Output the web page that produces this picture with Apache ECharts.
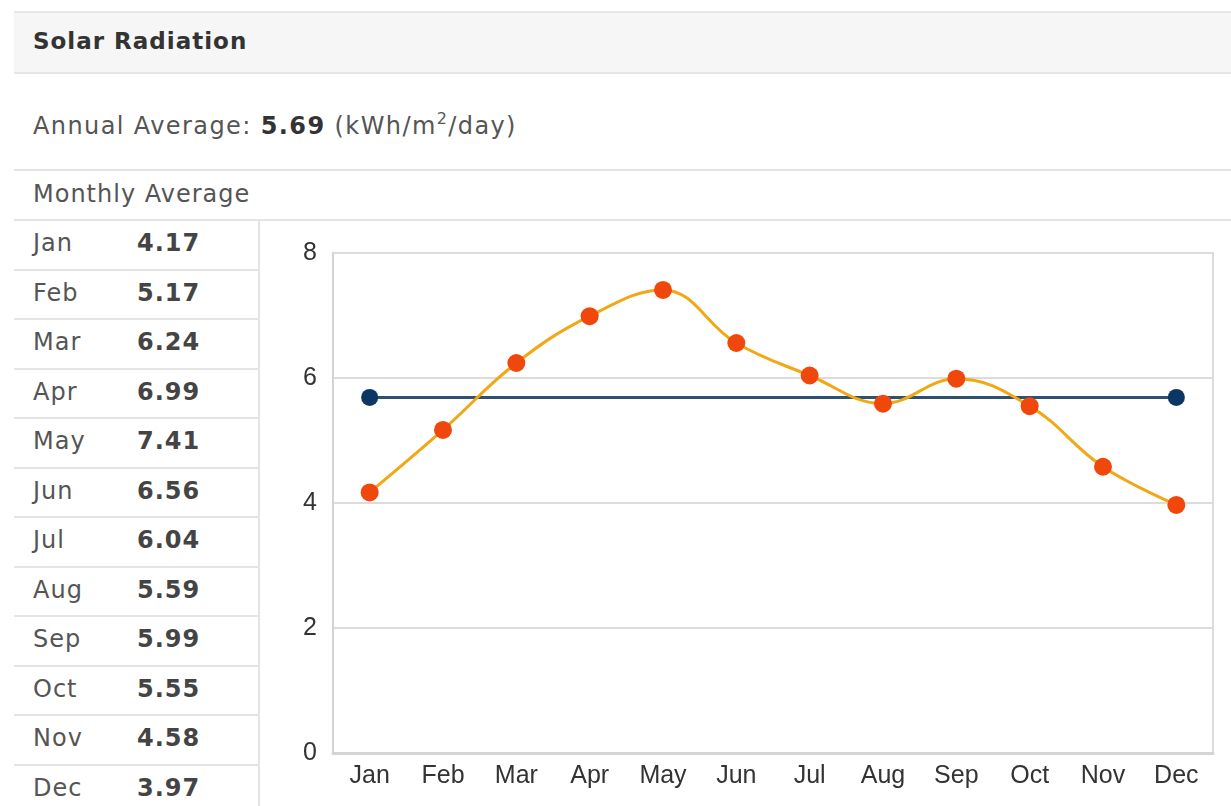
<!DOCTYPE html>
<html>
<head>
<meta charset="utf-8">
<script src="https://cdn.jsdelivr.net/npm/echarts@6/dist/echarts.min.js"></script>
<style>
    html, body { margin: 0; padding: 0; background: #fff; }
    body { width: 1231px; height: 806px; overflow: hidden; position: relative; font-family: "DejaVu Sans", Verdana, sans-serif; }
    .hline { position: absolute; left: 14px; right: 0; height: 2px; background: #e4e4e4; }
    #head { position: absolute; left: 14px; right: 0; top: 11px; height: 59px; background: #f6f6f6;
            border-top: 2px solid #e6e6e6; border-bottom: 2px solid #e6e6e6; }
    #head span { position: absolute; left: 19px; top: 15px; font-size: 23px; font-weight: bold; color: #333; letter-spacing: 1px; }
    #annual { position: absolute; left: 33px; top: 112px; font-size: 24px; color: #555; letter-spacing: 1.4px; }
    #annual b { color: #333; }
    #annual sup { font-size: 16px; vertical-align: 10px; line-height: 0; }
    #monthly { position: absolute; left: 33px; top: 180px; font-size: 24px; color: #555; letter-spacing: 1px; }
    #table { position: absolute; left: 14px; top: 221px; width: 244px; bottom: 0; border-right: 2px solid #e4e4e4; }
    .row { height: 47.5px; border-bottom: 2px solid #e4e4e4; position: relative; font-size: 24px; letter-spacing: 1px; }
    .row .m { position: absolute; left: 19px; top: 8px; color: #555; }
    .row .v { position: absolute; left: 123px; top: 8px; color: #444; font-weight: bold; }
    #chart { position: absolute; left: 260px; top: 221px; width: 971px; height: 585px; }
</style>
</head>
<body>
<div id="head"><span>Solar Radiation</span></div>
<div id="annual"></div>
<div class="hline" style="top:169px"></div>
<div id="monthly">Monthly Average</div>
<div class="hline" style="top:219px"></div>
<div id="table"></div>
<div id="chart"></div>
<script>
// values
const months = ['Jan', 'Feb', 'Mar', 'Apr', 'May', 'Jun', 'Jul', 'Aug', 'Sep', 'Oct', 'Nov', 'Dec'];
const monthly = [4.17, 5.17, 6.24, 6.99, 7.41, 6.56, 6.04, 5.59, 5.99, 5.55, 4.58, 3.97];
const annualAvg = 5.69;
const yTicks = [0, 2, 4, 6, 8];

document.getElementById('annual').innerHTML =
    'Annual Average: <b>' + annualAvg.toFixed(2) + '</b> (kWh/m<sup>2</sup>/day)';

let rows = '';
months.forEach((m, i) => {
    rows += '<div class="row"><span class="m">' + m + '</span><span class="v">' + monthly[i].toFixed(2) + '</span></div>';
});
document.getElementById('table').innerHTML = rows;

// avg line only has markers at both ends
const avgLine = months.map((m, i) => (i === 0 || i === months.length - 1) ? annualAvg : null);

const chart = echarts.init(document.getElementById('chart'));
const option = {
    animation: false,
    grid: { left: 73, right: 18, top: 32, bottom: 53, show: true, borderColor: '#dcdcdc', borderWidth: 2 },
    xAxis: {
        type: 'category',
        data: months,
        boundaryGap: true,
        axisLine: { lineStyle: { color: '#d4d4d4', width: 3 } },
        axisTick: { show: false },
        axisLabel: { color: '#333', fontSize: 25, fontFamily: 'Liberation Sans, Arial', margin: 11 }
    },
    yAxis: {
        type: 'value',
        min: yTicks[0],
        max: yTicks[yTicks.length - 1],
        interval: 2,
        axisLine: { show: true, lineStyle: { color: '#d4d4d4', width: 2 } },
        axisTick: { show: false },
        splitLine: { lineStyle: { color: '#dcdcdc', width: 2 } },
        axisLabel: { color: '#333', fontSize: 25, fontFamily: 'Liberation Sans, Arial', margin: 16 }
    },
    series: [
        {
            name: 'Annual Average',
            type: 'line',
            data: avgLine,
            connectNulls: true,
            symbol: 'circle',
            symbolSize: 17,
            lineStyle: { color: '#2f5170', width: 3 },
            itemStyle: { color: '#0c3764' },
            z: 2
        },
        {
            name: 'Monthly Average',
            type: 'line',
            data: monthly,
            smooth: 0.4,
            symbol: 'circle',
            symbolSize: 18,
            lineStyle: { color: '#f1a817', width: 3 },
            itemStyle: { color: '#f0480c' },
            z: 3
        }
    ]
};
chart.setOption(option);
</script>
</body>
</html>
